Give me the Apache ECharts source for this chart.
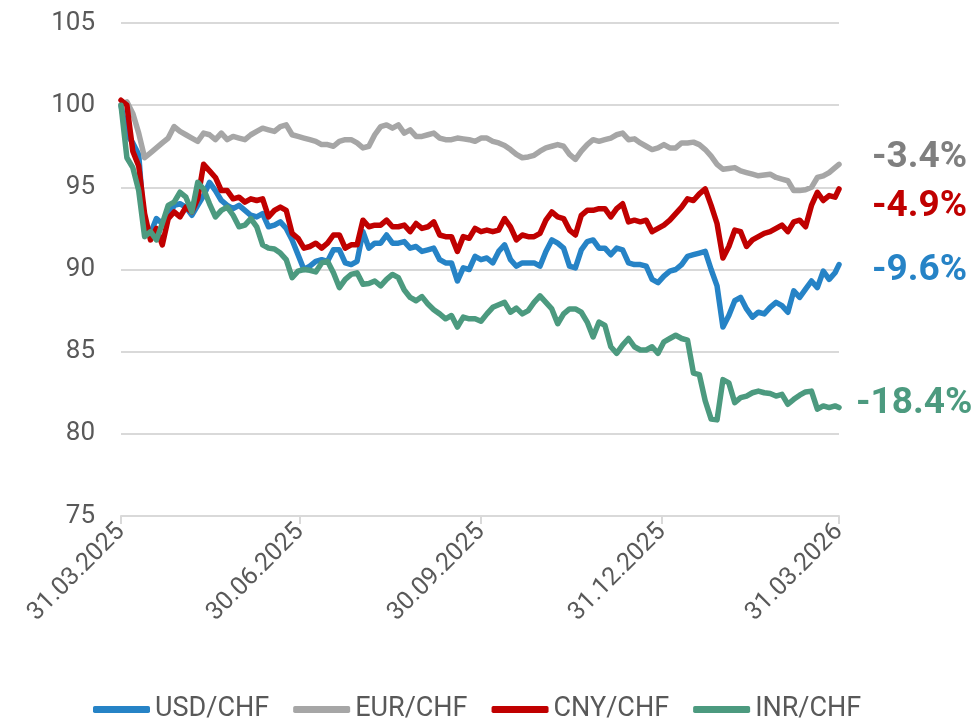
<!DOCTYPE html>
<html>
<head>
<meta charset="utf-8">
<script src="https://cdn.jsdelivr.net/npm/echarts@6/dist/echarts.min.js"></script>
<style>
  html, body { margin: 0; padding: 0; background: #fff; }
  #myChart { width: 973px; height: 728px; }
</style>
</head>
<body>
<div id="myChart"></div>
<script>
// Daten alle 3 Tage
const dates = [
  '2025-03-31',
  '2025-04-03','2025-04-06','2025-04-09','2025-04-12','2025-04-15','2025-04-18','2025-04-21','2025-04-24','2025-04-27','2025-04-30',
  '2025-05-03','2025-05-06','2025-05-09','2025-05-12','2025-05-15','2025-05-18','2025-05-21','2025-05-24','2025-05-27','2025-05-30',
  '2025-06-02','2025-06-05','2025-06-08','2025-06-11','2025-06-14','2025-06-17','2025-06-20','2025-06-23','2025-06-26','2025-06-29',
  '2025-07-02','2025-07-05','2025-07-08','2025-07-11','2025-07-14','2025-07-17','2025-07-20','2025-07-23','2025-07-26','2025-07-29',
  '2025-08-01','2025-08-04','2025-08-07','2025-08-10','2025-08-13','2025-08-16','2025-08-19','2025-08-22','2025-08-25','2025-08-28','2025-08-31',
  '2025-09-03','2025-09-06','2025-09-09','2025-09-12','2025-09-15','2025-09-18','2025-09-21','2025-09-24','2025-09-27','2025-09-30',
  '2025-10-03','2025-10-06','2025-10-09','2025-10-12','2025-10-15','2025-10-18','2025-10-21','2025-10-24','2025-10-27','2025-10-30',
  '2025-11-02','2025-11-05','2025-11-08','2025-11-11','2025-11-14','2025-11-17','2025-11-20','2025-11-23','2025-11-26','2025-11-29',
  '2025-12-02','2025-12-05','2025-12-08','2025-12-11','2025-12-14','2025-12-17','2025-12-20','2025-12-23','2025-12-26','2025-12-29',
  '2026-01-01','2026-01-04','2026-01-07','2026-01-10','2026-01-13','2026-01-16','2026-01-19','2026-01-22','2026-01-25','2026-01-28','2026-01-31',
  '2026-02-03','2026-02-06','2026-02-09','2026-02-12','2026-02-15','2026-02-18','2026-02-21','2026-02-24','2026-02-27',
  '2026-03-02','2026-03-05','2026-03-08','2026-03-11','2026-03-14','2026-03-17','2026-03-20','2026-03-23','2026-03-26','2026-03-29','2026-03-31'
];

// USD/CHF
const usd = [
  100.0, 98.2, 97.7, 97.0, 92.3, 92.2, 93.1, 92.8, 93.2, 93.9,
  94.0, 93.8, 93.3, 93.9, 94.5, 95.3, 94.8, 94.2, 93.9, 93.7,
  93.9, 93.6, 93.3, 93.2, 93.4, 92.6, 92.7, 92.9, 92.5, 91.8,
  90.9, 90.0, 90.2, 90.5, 90.6, 90.5, 91.2, 91.2, 90.4, 90.3,
  90.5, 92.3, 91.3, 91.6, 91.6, 92.1, 91.6, 91.6, 91.7, 91.3,
  91.4, 91.1, 91.2, 91.3, 90.6, 90.4, 90.4, 89.3, 90.1, 90.0,
  90.8, 90.6, 90.7, 90.4, 91.1, 91.5, 90.6, 90.2, 90.4, 90.4,
  90.4, 90.2, 91.1, 91.8, 91.6, 91.3, 90.2, 90.1, 91.2, 91.7,
  91.8, 91.3, 91.3, 90.9, 91.3, 91.2, 90.4, 90.3, 90.3, 90.2,
  89.4, 89.2, 89.6, 89.9, 90.0, 90.3, 90.8, 90.9, 91.0, 91.1,
  90.0, 89.0, 86.5, 87.2, 88.1, 88.3, 87.6, 87.1, 87.4, 87.3,
  87.7, 88.0, 87.8, 87.4, 88.7, 88.3, 88.8, 89.3, 88.9, 89.9,
  89.4, 89.8, 90.3
];

// EUR/CHF
const eur = [
  100.0, 100.2, 99.5, 98.3, 96.8, 97.1, 97.4, 97.7, 98.0, 98.7,
  98.4, 98.2, 98.0, 97.8, 98.3, 98.2, 97.9, 98.3, 97.9, 98.1,
  98.0, 97.9, 98.2, 98.4, 98.6, 98.5, 98.4, 98.7, 98.8, 98.2,
  98.1, 98.0, 97.9, 97.8, 97.6, 97.6, 97.5, 97.8, 97.9, 97.9,
  97.7, 97.4, 97.5, 98.2, 98.7, 98.8, 98.6, 98.8, 98.3, 98.5,
  98.1, 98.1, 98.2, 98.3, 98.0, 97.9, 97.9, 98.0, 97.95, 97.9,
  97.8, 98.0, 98.0, 97.8, 97.7, 97.55, 97.3, 97.0, 96.8, 96.85,
  96.95, 97.2, 97.4, 97.5, 97.6, 97.5, 97.0, 96.7, 97.2, 97.6,
  97.9, 97.8, 97.9, 98.0, 98.2, 98.3, 97.9, 97.95, 97.7, 97.5,
  97.3, 97.4, 97.6, 97.4, 97.4, 97.7, 97.7, 97.75, 97.6, 97.3,
  96.9, 96.4, 96.1, 96.15, 96.2, 96.0, 95.9, 95.8, 95.7, 95.75,
  95.8, 95.6, 95.5, 95.4, 94.8, 94.8, 94.85, 95.0, 95.6, 95.7,
  95.9, 96.2, 96.4
];

// CNY/CHF
const cny = [
  100.3, 100.0, 97.2, 96.3, 93.4, 91.8, 92.5, 91.5, 93.1, 93.5,
  93.2, 93.8, 93.5, 94.3, 96.4, 96.0, 95.6, 94.8, 94.8, 94.3,
  94.4, 94.1, 94.3, 94.2, 94.3, 93.2, 93.6, 93.8, 93.6, 92.2,
  91.9, 91.3, 91.4, 91.6, 91.3, 91.6, 92.1, 92.1, 91.3, 91.5,
  91.5, 93.0, 92.6, 92.7, 92.7, 93.0, 92.6, 92.6, 92.7, 92.3,
  92.8, 92.5, 92.6, 92.9, 92.1, 92.0, 92.0, 91.1, 92.0, 91.9,
  92.5, 92.3, 92.4, 92.3, 92.4, 93.1, 92.6, 91.8, 92.1, 92.0,
  92.0, 92.2, 93.0, 93.5, 93.2, 93.1, 92.4, 92.1, 93.3, 93.6,
  93.6, 93.7, 93.7, 93.2, 93.7, 94.0, 92.9, 93.0, 92.9, 93.0,
  92.3, 92.5, 92.7, 93.0, 93.4, 93.8, 94.3, 94.2, 94.6, 94.9,
  93.9, 92.8, 90.7, 91.4, 92.4, 92.3, 91.4, 91.8, 92.0, 92.2,
  92.3, 92.5, 92.7, 92.3, 92.9, 93.0, 92.6, 93.9, 94.7, 94.2,
  94.5, 94.4, 94.9
];

// INR/CHF
const inr = [
  100.0, 96.8, 96.2, 94.8, 92.0, 92.3, 91.8, 92.8, 93.9, 94.1,
  94.7, 94.4, 93.5, 95.3, 94.9, 94.0, 93.2, 93.6, 93.8, 93.3,
  92.6, 92.7, 93.1, 92.6, 91.5, 91.3, 91.25, 91.0, 90.6, 89.5,
  89.9, 90.0, 89.95, 89.85, 90.4, 90.5, 89.8, 88.9, 89.4, 89.7,
  89.8, 89.1, 89.15, 89.3, 89.0, 89.4, 89.7, 89.5, 88.75, 88.3,
  88.1, 88.35, 87.9, 87.55, 87.3, 87.0, 87.2, 86.5, 87.1, 87.0,
  87.0, 86.85, 87.3, 87.7, 87.85, 88.0, 87.4, 87.65, 87.3, 87.5,
  88.0, 88.4, 88.0, 87.6, 86.7, 87.3, 87.6, 87.6, 87.4, 86.8,
  85.9, 86.8, 86.6, 85.3, 84.9, 85.4, 85.8, 85.3, 85.1, 85.1,
  85.3, 84.9, 85.6, 85.8, 86.0, 85.8, 85.7, 83.7, 83.6, 82.0,
  80.9, 80.85, 83.3, 83.1, 81.9, 82.2, 82.3, 82.5, 82.6, 82.5,
  82.45, 82.3, 82.4, 81.8, 82.1, 82.35, 82.55, 82.6, 81.5, 81.7,
  81.6, 81.7, 81.6
];

const seriesNames = ['USD/CHF', 'EUR/CHF', 'CNY/CHF', 'INR/CHF'];
const endLabels = ['-9.6%', '-3.4%', '-4.9%', '-18.4%'];
const tickDates = ['2025-03-31', '2025-06-30', '2025-09-30', '2025-12-31', '2026-03-31'];

const DAY = 86400000;
function toTime(s) {
  const p = s.split('-');
  return Date.UTC(+p[0], +p[1] - 1, +p[2]);
}
// Tage seit Start
function toDay(s) {
  return Math.round((toTime(s) - toTime(tickDates[0])) / DAY);
}
function pad(n) {
  return n < 10 ? '0' + n : '' + n;
}

const colors = ['#2683C6', '#A6A6A6', '#C00000', '#4C9A7F'];
const labelColors = ['#2683C6', '#7F7F7F', '#C00000', '#4C9A7F'];
const labelOffsets = [[0, 6], [0, -7], [0, 18], [0, -4]];
const labelDistance = [33, 33, 33, 17];
const values = [usd, eur, cny, inr];

let series = [];
for (let i = 0; i < seriesNames.length; i++) {
  series.push({
    name: seriesNames[i],
    type: 'line',
    symbol: 'none',
    color: colors[i],
    lineStyle: { width: 5.5, color: colors[i], cap: 'round', join: 'round' },
    data: dates.map((d, k) => [toDay(d), values[i][k]]),
    endLabel: {
      show: true,
      formatter: endLabels[i],
      color: labelColors[i],
      fontFamily: 'Roboto',
      fontWeight: 'bold',
      fontSize: 37,
      distance: labelDistance[i],
      offset: labelOffsets[i]
    }
  });
}

const tickDays = tickDates.map(toDay);

let option = {
  animation: false,
  backgroundColor: '#fff',
  textStyle: { fontFamily: 'Roboto' },
  grid: { left: 121, right: 134, top: 23, bottom: 212, containLabel: false },
  legend: {
    bottom: 0,
    left: 88,
    icon: 'roundRect',
    itemWidth: 57,
    itemHeight: 7,
    itemGap: 24,
    textStyle: { fontSize: 27, color: '#595959', fontFamily: 'Roboto' },
    data: seriesNames
  },
  xAxis: {
    type: 'value',
    min: tickDays[0],
    max: tickDays[tickDays.length - 1],
    axisLine: { lineStyle: { color: '#D9D9D9', width: 2 } },
    axisTick: {
      show: true,
      length: 8,
      lineStyle: { color: '#D9D9D9', width: 2 },
      customValues: tickDays
    },
    axisLabel: {
      rotate: 45,
      fontSize: 25,
      color: '#595959',
      margin: 12,
      customValues: tickDays,
      formatter: function (v) {
        const d = new Date(toTime(tickDates[0]) + v * DAY);
        return pad(d.getUTCDate()) + '.' + pad(d.getUTCMonth() + 1) + '.' + d.getUTCFullYear();
      }
    },
    splitLine: { show: false }
  },
  yAxis: {
    type: 'value',
    min: 75,
    max: 105,
    interval: 5,
    axisLine: { show: false },
    axisTick: { show: false },
    axisLabel: { fontSize: 26, color: '#595959', margin: 26 },
    splitLine: { lineStyle: { color: '#D9D9D9', width: 2 } }
  },
  series: series
};

const myChart = echarts.init(document.getElementById('myChart'));
myChart.setOption(option);
</script>
</body>
</html>
